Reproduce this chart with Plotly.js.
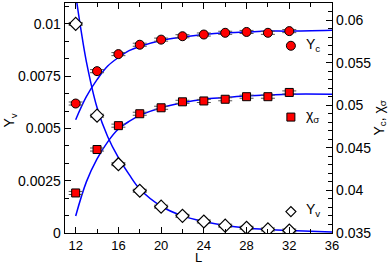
<!DOCTYPE html>
<html>
<head>
<meta charset="utf-8">
<script src="https://cdn.plot.ly/plotly-3.0.1.min.js"></script>
<style>html,body{margin:0;padding:0;background:#fff;}#plot{width:390px;height:262px;}</style>
</head>
<body>
<div id="plot"></div>
<script>
// Data
const L = [12, 14, 16, 18, 20, 22, 24, 26, 28, 30, 32];
const Yv = [0.0100, 0.00561, 0.00329, 0.00202, 0.00126, 0.00082, 0.00055, 0.00035, 0.00025, 0.00017, 0.00012];
const Yc = [0.0502, 0.0540, 0.0560, 0.0571, 0.0577, 0.0581, 0.0583, 0.0585, 0.0586, 0.0585, 0.0587];
const chi = [0.0397, 0.0448, 0.0476, 0.0490, 0.0497, 0.0504, 0.0505, 0.0507, 0.0510, 0.0510, 0.0515];
const YvErr = [0.00007, 0.00007, 0.00007, 0.00007, 0.00007, 0.00007, 0.00007, 0.00007, 0.00007, 0.00007, 0.00007];
const rightErr = [0.00018, 0.00018, 0.00018, 0.00018, 0.00018, 0.00018, 0.00018, 0.00018, 0.00018, 0.00018, 0.00018];

// Fit curves
const fitL_v = [12, 12.5, 13, 14, 15, 16, 17, 18, 20, 22, 24, 26, 28, 30, 32, 34, 36];
const fitYv = [0.0114, 0.0097, 0.0082, 0.0060, 0.0046, 0.0036, 0.0028, 0.0021, 0.00128, 0.00082, 0.00055, 0.00036, 0.00024, 0.00017, 0.00012, 0.00008, 0.00005];
const fitL = [12, 13, 14, 15, 16, 17, 18, 20, 22, 24, 26, 28, 30, 32, 36];
const fitYc = [0.0483, 0.0510, 0.0530, 0.0546, 0.0556, 0.0564, 0.0569, 0.0576, 0.0580, 0.0583, 0.0585, 0.0586, 0.0587, 0.0587, 0.0588];
const fitChi = [0.0370, 0.0410, 0.0437, 0.0457, 0.0472, 0.0481, 0.0488, 0.0497, 0.0503, 0.0507, 0.0509, 0.0511, 0.0512, 0.0513, 0.0513];

// Legend labels
const legendLabels = ['Y<sub>c</sub>', 'χ<sub>σ</sub>', 'Y<sub>v</sub>'];

const FONT = 'Liberation Sans, Arial, sans-serif';
const blue = '#0000ff';
const errStyle = (arr) => ({type: 'data', array: arr, visible: true, color: '#555', thickness: 1, width: 7});

const traces = [
  {x: fitL_v, y: fitYv, mode: 'lines', line: {color: blue, width: 1.5, shape: 'spline'}, hoverinfo: 'skip'},
  {x: fitL, y: fitYc, yaxis: 'y2', mode: 'lines', line: {color: blue, width: 1.5, shape: 'spline'}, hoverinfo: 'skip'},
  {x: fitL, y: fitChi, yaxis: 'y2', mode: 'lines', line: {color: blue, width: 1.5, shape: 'spline'}, hoverinfo: 'skip'},
  {x: L, y: Yc, yaxis: 'y2', mode: 'markers', name: legendLabels[0],
   error_y: errStyle(rightErr),
   marker: {symbol: 'circle', size: 9, color: '#ff0000', line: {color: '#000', width: 1}}},
  {x: L, y: chi, yaxis: 'y2', mode: 'markers', name: legendLabels[1],
   error_y: errStyle(rightErr),
   marker: {symbol: 'square', size: 8, color: '#ff0000', line: {color: '#000', width: 1}}},
  {x: L, y: Yv, mode: 'markers', name: legendLabels[2],
   error_y: errStyle(YvErr),
   marker: {symbol: 'diamond', size: 10, color: '#ffffff', line: {color: '#000', width: 1.2}}}
];

// plot area: x 65..332, y 3..233 px
const legX = 0.846, legTX = 0.895;
const legY = [0.814, 0.504, 0.093];

const shapes = [
  {type: 'circle', xref: 'paper', yref: 'paper', xsizemode: 'pixel', ysizemode: 'pixel',
   xanchor: legX, yanchor: legY[0], x0: -4.5, x1: 4.5, y0: -4.5, y1: 4.5,
   fillcolor: '#ff0000', line: {color: '#000', width: 1}},
  {type: 'rect', xref: 'paper', yref: 'paper', xsizemode: 'pixel', ysizemode: 'pixel',
   xanchor: legX, yanchor: legY[1], x0: -4, x1: 4, y0: -4, y1: 4,
   fillcolor: '#ff0000', line: {color: '#000', width: 1}},
  {type: 'path', xref: 'paper', yref: 'paper', xsizemode: 'pixel', ysizemode: 'pixel',
   xanchor: legX, yanchor: legY[2], path: 'M -5 0 L 0 5 L 5 0 L 0 -5 Z',
   fillcolor: '#ffffff', line: {color: '#000', width: 1.2}}
];

const annotations = legendLabels.map((t, i) => ({
  text: t, xref: 'paper', yref: 'paper', x: legTX, y: legY[i] + 0.005,
  xanchor: 'left', yanchor: 'middle', showarrow: false, font: {family: FONT, size: 14, color: '#000'}
})).concat([
  {text: 'L', xref: 'paper', yref: 'paper', x: 0.5, y: -0.145, xanchor: 'center', yanchor: 'bottom',
   borderpad: 0, showarrow: false, font: {family: FONT, size: 13, color: '#000'}},
  {text: 'Y<sub>v</sub>', xref: 'paper', yref: 'paper', x: -0.205, y: 0.49, xanchor: 'center', yanchor: 'middle',
   textangle: -90, showarrow: false, font: {family: FONT, size: 14, color: '#000'}},
  {text: 'Y<sub>c</sub>, χ<sub>σ</sub>', xref: 'paper', yref: 'paper', x: 1.178, y: 0.5, xanchor: 'center', yanchor: 'middle',
   textangle: -90, showarrow: false, font: {family: FONT, size: 14, color: '#000'}}
]);

const layout = {
  width: 390, height: 262,
  margin: {l: 65, r: 58, t: 3, b: 29, pad: 0},
  paper_bgcolor: '#fff', plot_bgcolor: '#fff',
  font: {family: FONT, size: 13, color: '#000'},
  showlegend: false,
  xaxis: {
    range: [11, 36], tick0: 12, dtick: 4, ticks: 'inside', ticklen: 6, tickwidth: 1, tickcolor: '#000',
    minor: {dtick: 2, ticks: 'inside', ticklen: 4, tickcolor: '#000'},
    showline: true, linecolor: '#000', linewidth: 1.3, mirror: 'ticks',
    showgrid: false, zeroline: false,
    tickfont: {family: FONT, size: 13}, ticklabelstandoff: 0
  },
  yaxis: {
    range: [0, 0.011],
    tickvals: [0, 0.0025, 0.005, 0.0075, 0.01], ticktext: ['0', '0.0025', '0.005', '0.0075', '0.01'],
    ticks: 'inside', ticklen: 6, tickwidth: 1, tickcolor: '#000',
    minor: {tick0: 0, dtick: 0.000833333, ticks: 'inside', ticklen: 4, tickcolor: '#000'},
    showline: true, linecolor: '#000', linewidth: 1.3,
    showgrid: false, zeroline: false,
    tickfont: {family: FONT, size: 14}, ticklabelstandoff: 0
  },
  yaxis2: {
    overlaying: 'y', side: 'right', range: [0.035, 0.062],
    tickvals: [0.035, 0.04, 0.045, 0.05, 0.055, 0.06], ticktext: ['0.035', '0.04', '0.045', '0.05', '0.055', '0.06'],
    ticks: 'inside', ticklen: 6, tickwidth: 1, tickcolor: '#000',
    minor: {tick0: 0.035, dtick: 0.001, ticks: 'inside', ticklen: 4, tickcolor: '#000'},
    showline: true, linecolor: '#000', linewidth: 1.3,
    showgrid: false, zeroline: false,
    tickfont: {family: FONT, size: 14}, ticklabelstandoff: 0
  },
  shapes: shapes,
  annotations: annotations
};

Plotly.newPlot('plot', traces, layout, {staticPlot: true, displayModeBar: false});
</script>
</body>
</html>
